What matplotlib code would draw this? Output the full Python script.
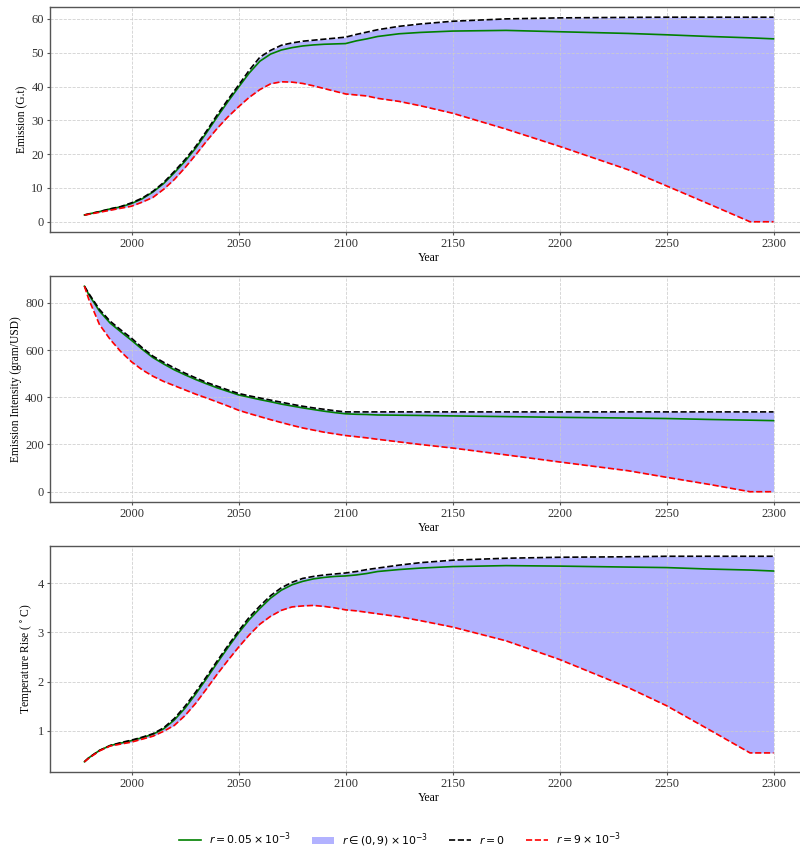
import matplotlib
matplotlib.use("Agg")
import matplotlib.pyplot as plt

plt.rcParams.update({
    "font.family": ["Liberation Serif", "DejaVu Serif"],
    "font.size": 9,
    "axes.edgecolor": "#555555",
    "xtick.color": "#555555",
    "ytick.color": "#555555",
    "xtick.labelcolor": "#333333",
    "ytick.labelcolor": "#333333",
})

# -----------------------------
# Data
# -----------------------------
years = [1978, 1980, 1985, 1990, 1995, 2000, 2005, 2010, 2015, 2020,
         2025, 2030, 2035, 2040, 2045, 2050, 2055, 2060, 2065, 2070,
         2075, 2080, 2085, 2090, 2095, 2100, 2105, 2110, 2115, 2125,
         2135, 2150, 2175, 2200, 2232, 2250, 2270, 2289, 2300]

# Emission (Gt)
em_r0 = [2.0, 2.3, 3.0, 3.8, 4.5, 5.6, 7.0, 9.0, 11.6, 14.9,
         18.4, 22.3, 26.8, 31.6, 36.1, 40.4, 44.8, 48.7, 50.7, 52.2,
         52.9, 53.4, 53.7, 54.0, 54.3, 54.6, 55.4, 56.1, 56.8, 57.8,
         58.5, 59.3, 60.0, 60.3, 60.45, 60.5, 60.5, 60.5, 60.5]
em_r005 = [2.0, 2.3, 3.0, 3.8, 4.4, 5.4, 6.8, 8.8, 11.3, 14.5,
           17.9, 21.8, 26.3, 31.0, 35.5, 39.8, 44.0, 47.5, 49.6, 50.8,
           51.5, 52.0, 52.3, 52.5, 52.6, 52.7, 53.5, 54.1, 54.8, 55.6,
           56.0, 56.4, 56.6, 56.2, 55.7, 55.3, 54.8, 54.4, 54.1]
em_r9 = [2.0, 2.2, 2.8, 3.4, 4.0, 4.6, 5.8, 7.2, 9.6, 12.5,
         16.0, 19.8, 23.8, 27.6, 31.0, 34.0, 36.8, 39.1, 40.8, 41.4,
         41.3, 40.9, 40.2, 39.4, 38.6, 37.8, 37.5, 37.2, 36.5, 35.6,
         34.3, 32.1, 27.4, 22.3, 15.4, 10.6, 5.2, 0.0, 0.0]

# Emission intensity (gram/USD)
ei_r0 = [870, 840, 772, 722, 685, 650, 610, 574, 548, 524,
         502, 482, 463, 447, 431, 416, 406, 397, 388, 379,
         370, 362, 355, 349, 343, 338, 338, 338, 338, 338,
         338, 338, 338, 338, 338, 338, 338, 338, 338]
ei_r005 = [870, 835, 765, 714, 677, 641, 603, 568, 541, 516,
           495, 475, 457, 440, 425, 410, 400, 390, 381, 371,
           363, 355, 348, 341, 335, 330, 328, 327, 325, 324,
           323, 321, 318, 315, 312, 310, 306, 303, 301]
ei_r9 = [870, 815, 708, 645, 593, 550, 516, 489, 467, 449,
         431, 413, 397, 380, 363, 345, 331, 318, 305, 293,
         281, 270, 261, 252, 245, 238, 233, 228, 222, 211,
         200, 185, 156, 126, 89, 61, 31, 0, 0]

# Temperature rise (deg C)
tr_r0 = [0.37, 0.45, 0.60, 0.70, 0.76, 0.81, 0.87, 0.94, 1.06, 1.25,
         1.50, 1.79, 2.10, 2.42, 2.73, 3.03, 3.31, 3.54, 3.75, 3.91,
         4.02, 4.10, 4.14, 4.17, 4.19, 4.21, 4.24, 4.28, 4.31, 4.37,
         4.42, 4.47, 4.51, 4.53, 4.54, 4.55, 4.55, 4.55, 4.55]
tr_r005 = [0.37, 0.45, 0.60, 0.70, 0.75, 0.80, 0.86, 0.93, 1.04, 1.22,
           1.46, 1.75, 2.06, 2.38, 2.69, 2.99, 3.26, 3.49, 3.70, 3.86,
           3.97, 4.04, 4.09, 4.12, 4.14, 4.15, 4.17, 4.20, 4.24, 4.28,
           4.31, 4.34, 4.36, 4.35, 4.33, 4.32, 4.29, 4.27, 4.25]
tr_r9 = [0.37, 0.44, 0.59, 0.69, 0.73, 0.77, 0.83, 0.89, 0.99, 1.11,
         1.31, 1.56, 1.85, 2.15, 2.43, 2.70, 2.95, 3.17, 3.33, 3.45,
         3.52, 3.54, 3.55, 3.53, 3.50, 3.46, 3.44, 3.41, 3.38, 3.32,
         3.24, 3.11, 2.83, 2.45, 1.88, 1.51, 1.02, 0.55, 0.55]

panels = [
    ("Emission (G.t)", em_r0, em_r005, em_r9, [0, 10, 20, 30, 40, 50, 60]),
    ("Emission Intensity (gram/USD)", ei_r0, ei_r005, ei_r9, [0, 200, 400, 600, 800]),
    ("Temperature Rise ($^\\circ$C)", tr_r0, tr_r005, tr_r9, [1, 2, 3, 4]),
]

# -----------------------------
# Plot
# -----------------------------
fig = plt.figure(figsize=(8, 8.51), dpi=100)
boxes = [
    [0.0625, 0.7274, 0.9475, 0.2644],
    [0.0625, 0.4101, 0.9475, 0.2656],
    [0.0625, 0.0928, 0.9475, 0.2656],
]

for box, (ylabel, upper, mid, lower, yticks) in zip(boxes, panels):
    ax = fig.add_axes(box)
    ax.plot(years, mid, color="green", lw=1.2, label=r"$r=0.05\times10^{-3}$")
    ax.fill_between(years, lower, upper, color="blue", alpha=0.3, lw=0,
                    label=r"$r\in(0,9)\times10^{-3}$")
    ax.plot(years, upper, color="black", ls="--", lw=1.2, label=r"$r=0$")
    ax.plot(years, lower, color="red", ls="--", lw=1.2, label=r"$r=9\times10^{-3}$")

    ax.set_xticks([2000, 2050, 2100, 2150, 2200, 2250, 2300])
    ax.set_yticks(yticks)
    ax.set_xlabel("Year", fontsize=8.5, labelpad=1)
    ax.set_ylabel(ylabel, fontsize=8.3, labelpad=2)
    ax.grid(True, ls="--", lw=0.6, color="#cccccc", alpha=0.9)
    ax.tick_params(length=2.5, width=0.8, pad=2)
    for s in ax.spines.values():
        s.set_linewidth(1.0)

handles, labels = ax.get_legend_handles_labels()
fig.legend(handles, labels, loc="center", bbox_to_anchor=(0.5, 0.013), ncol=4,
           frameon=False, fontsize=7.8, handlelength=2.0, columnspacing=1.9)

fig.savefig("out.png", dpi=100)
